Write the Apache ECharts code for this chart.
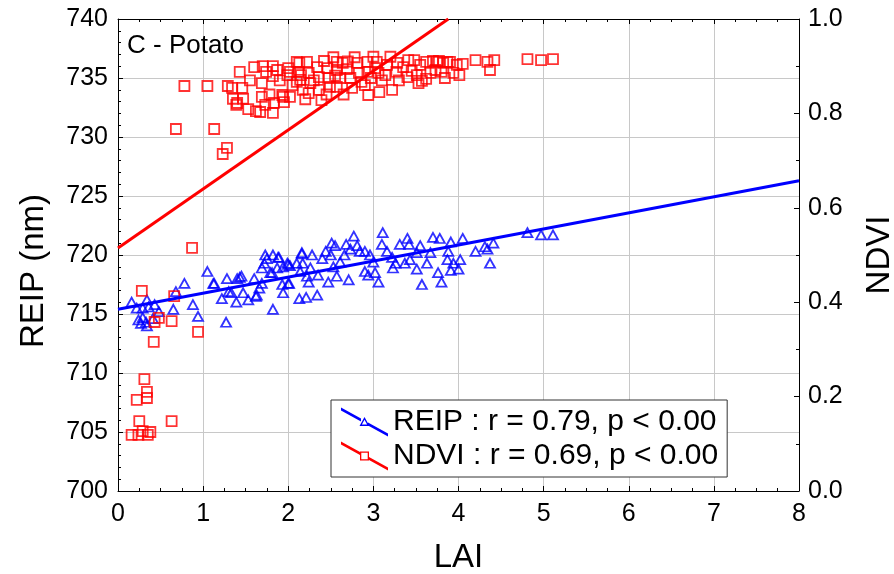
<!DOCTYPE html>
<html>
<head>
<meta charset="utf-8">
<script src="https://cdn.jsdelivr.net/npm/echarts@6/dist/echarts.min.js"></script>
<style>
html,body{margin:0;padding:0;background:#fff;}
#chart{width:894px;height:574px;}
</style>
</head>
<body>
<div id="chart"></div>
<script>
// ---- data ----
const xTicks = [0, 1, 2, 3, 4, 5, 6, 7, 8];
const reipTicks = [700, 705, 710, 715, 720, 725, 730, 735, 740];
const ndviTicks = [0.0, 0.2, 0.4, 0.6, 0.8, 1.0];

// REIP (nm) vs LAI
const reipPoints = [
[0.16,716.0],[0.22,715.5],[0.29,715.5],[0.34,716.2],[0.36,715.6],[0.24,714.5],[0.29,714.7],[0.33,714.3],[0.27,714.2],[0.34,714.0],
[0.43,715.8],[0.48,715.2],[0.41,714.6],[0.65,715.4],[0.68,716.9],[0.78,717.6],[0.88,715.8],[0.94,714.8],[1.05,718.6],[1.13,717.6],
[1.22,716.3],[1.28,718.0],[1.27,714.3],[1.33,716.8],[1.39,716.0],[1.40,718.0],[1.43,718.1],[1.47,716.8],[1.53,716.2],[1.60,718.0],
[1.63,716.6],[1.69,717.6],[1.72,719.3],[1.75,719.7],[1.82,720.0],[1.82,715.4],[1.69,718.9],[1.81,718.5],[1.87,718.9],[1.88,719.8],
[1.99,719.3],[1.94,716.8],[2.02,719.1],[2.01,717.6],[2.16,720.1],[2.13,716.3],[2.21,716.4],[1.12,717.6],[1.30,716.9],[1.45,718.2],
[1.62,716.5],[1.66,717.2],[1.73,720.0],[1.89,719.8],[1.79,718.5],[1.94,719.0],[2.00,719.2],[1.93,717.5],[2.00,717.6],[2.34,716.6],
[2.16,720.2],[2.28,720.0],[2.17,719.3],[2.26,718.9],[2.10,719.3],[2.14,718.6],[2.22,718.2],[2.24,717.7],[2.35,718.3],[2.40,719.7],
[2.44,720.3],[2.50,720.0],[2.51,721.0],[2.55,720.8],[2.53,719.0],[2.61,719.4],[2.66,720.0],[2.68,720.9],[2.73,720.5],[2.47,717.7],
[2.57,718.2],[2.71,717.9],[2.77,721.6],[2.81,720.8],[2.84,720.3],[2.90,720.3],[2.96,720.0],[3.00,719.4],[2.90,718.6],[2.94,718.3],
[3.02,718.5],[3.06,717.7],[3.11,721.9],[3.10,720.9],[3.16,720.3],[3.22,719.8],[3.23,718.9],[3.26,719.3],[3.31,720.9],[3.40,721.4],
[3.42,720.9],[3.37,719.3],[3.43,719.6],[3.51,720.2],[3.55,720.8],[3.51,718.8],[3.57,717.5],[3.63,719.3],[3.67,720.2],[3.70,721.5],
[3.78,721.4],[3.76,718.5],[3.80,717.7],[3.87,719.6],[3.88,720.3],[3.91,721.1],[4.05,721.4],[3.91,718.7],[3.94,719.3],[4.00,718.8],
[4.02,719.6],[4.20,720.3],[4.31,720.7],[4.34,720.5],[4.37,719.3],[4.41,721.0],[4.81,721.9],[4.97,721.7],[5.11,721.7]
];

// NDVI vs LAI
const ndviPoints = [
[0.16,0.119],[0.24,0.119],[0.35,0.119],[0.38,0.125],[0.29,0.127],[0.25,0.148],[0.63,0.148],[0.22,0.193],[0.34,0.197],[0.34,0.210],
[0.31,0.237],[0.42,0.316],[0.94,0.337],[0.43,0.358],[0.48,0.367],[0.63,0.360],[0.28,0.424],[0.66,0.413],[0.87,0.515],
[0.68,0.767],[1.13,0.767],[1.23,0.714],[1.28,0.727],[0.78,0.858],[1.05,0.858],[1.29,0.858],[1.34,0.854],[1.43,0.888],[1.46,0.854],
[1.35,0.831],[1.40,0.822],[1.47,0.831],[1.53,0.809],[1.60,0.898],[1.67,0.803],[1.82,0.801],[1.69,0.835],[1.73,0.818],[1.83,0.822],
[1.70,0.900],[1.82,0.900],[1.87,0.892],[1.69,0.864],[1.94,0.835],[1.95,0.824],[1.99,0.881],[2.00,0.896],[2.10,0.909],[2.12,0.888],
[2.10,0.867],[1.39,0.818],[1.62,0.805],[1.74,0.888],[1.82,0.879],[1.93,0.839],[2.02,0.835],[2.02,0.888],[2.13,0.907],[2.15,0.881],
[2.14,0.871],[2.17,0.850],[2.22,0.909],[2.24,0.886],[2.26,0.864],[2.24,0.843],[2.34,0.898],[2.36,0.877],[2.36,0.850],[2.39,0.828],
[2.42,0.911],[2.46,0.896],[2.47,0.875],[2.49,0.856],[2.53,0.919],[2.57,0.909],[2.57,0.892],[2.57,0.856],[2.61,0.875],[2.64,0.907],
[2.69,0.894],[2.73,0.875],[2.75,0.854],[2.78,0.919],[2.81,0.907],[2.83,0.886],[2.86,0.867],[2.93,0.909],[2.93,0.888],[2.94,0.839],
[2.97,0.875],[3.02,0.896],[3.04,0.909],[3.06,0.886],[3.07,0.845],[3.14,0.881],[3.16,0.903],[3.22,0.850],[3.27,0.888],[3.28,0.907],
[3.35,0.898],[3.40,0.877],[3.41,0.913],[3.48,0.913],[3.51,0.881],[3.55,0.903],[3.57,0.869],[3.62,0.909],[3.67,0.886],[3.70,0.911],
[3.73,0.892],[3.77,0.911],[3.80,0.888],[3.82,0.907],[3.84,0.875],[3.90,0.909],[3.94,0.886],[3.98,0.903],[3.53,0.864],[3.62,0.873],
[3.75,0.909],[3.87,0.909],[4.01,0.881],[4.05,0.905],[4.20,0.913],[4.34,0.909],[4.37,0.892],[4.42,0.913],[4.81,0.915],[4.97,0.913],
[5.11,0.915],[2.05,0.860],[2.30,0.870],[2.55,0.880],[2.70,0.910],[2.90,0.860],[3.10,0.870],[3.30,0.870],[3.45,0.890],[2.20,0.830],
[2.65,0.840],[1.90,0.870],[1.55,0.870],[1.78,0.840],[2.45,0.840],[3.00,0.920],[3.20,0.920]
];

// regression line end points
const reipFit = [[0, 715.4], [8, 726.3]];
const ndviFit = [[0, 0.515], [3.88, 1.0]];

const reipLegend = 'REIP : r = 0.79, p < 0.00';
const ndviLegend = 'NDVI : r = 0.69, p < 0.00';
const panelLabel = 'C - Potato';

// ---- chart ----
const FONT = "'Liberation Sans', Arial, sans-serif";
const BLUE = '#0000ff', RED = '#ff0000';
const GRID = '#c8c8c8', AX = '#000';

const reipIcon = 'path://M0 -1.5 L20 9.56 L20 12.56 L0 1.5 Z M27 13.44 L47 24.5 L47 27.5 L27 16.44 Z M23.5 8 L28.5 17 L18.5 17 Z M23.5 10.8 L20.9 15.6 L26.1 15.6 Z';
const ndviIcon = 'path://M0 -1.5 L19 9.0 L19 12.0 L0 1.5 Z M28 14.0 L47 24.5 L47 27.5 L28 17.0 Z M19 8.5 L28 8.5 L28 17.5 L19 17.5 Z M20.3 9.8 L20.3 16.2 L26.7 16.2 L26.7 9.8 Z';

const chart = echarts.init(document.getElementById('chart'), null, {renderer: 'canvas'});
chart.setOption({
  animation: false,
  backgroundColor: '#fff',
  textStyle: {fontFamily: FONT},
  title: {
    text: panelLabel, left: 127, top: 33, padding: 0,
    textStyle: {fontFamily: FONT, fontSize: 26, fontWeight: 'normal', color: '#000'}
  },
  grid: {left: 118, right: 95, top: 19, bottom: 83, containLabel: false, outerBoundsMode: 'none'},
  legend: {
    orient: 'vertical', left: 331, top: 400,
    padding: [5, 9, 4, 10], itemGap: 0,
    itemWidth: 47, itemHeight: 29,
    backgroundColor: '#fff', borderColor: '#333', borderWidth: 1, borderRadius: 0,
    selectedMode: false,
    itemStyle: {borderWidth: 0},
    textStyle: {fontFamily: FONT, fontSize: 30, color: '#000', lineHeight: 34},
    data: [
      {name: reipLegend, icon: reipIcon, itemStyle: {color: BLUE, borderWidth: 0}},
      {name: ndviLegend, icon: ndviIcon, itemStyle: {color: RED, borderWidth: 0}}
    ]
  },
  xAxis: [{
    type: 'value', min: xTicks[0], max: xTicks[xTicks.length - 1], interval: 1,
    name: 'LAI', nameLocation: 'middle', nameGap: 50,
    nameTextStyle: {fontFamily: FONT, fontSize: 33, color: '#000'},
    axisLine: {show: true, onZero: false, lineStyle: {color: AX, width: 1}},
    axisTick: {show: true, inside: true, length: 5, lineStyle: {color: AX}},
    minorTick: {show: true, splitNumber: 4, length: 3, lineStyle: {color: AX}},
    axisLabel: {fontFamily: FONT, fontSize: 25, color: '#000', margin: 11},
    splitLine: {show: true, lineStyle: {color: GRID, width: 1}}
  }, {
    type: 'value', position: 'top', min: xTicks[0], max: xTicks[xTicks.length - 1], interval: 1,
    axisLine: {show: true, onZero: false, lineStyle: {color: AX, width: 1}},
    axisTick: {show: true, inside: true, length: 5, lineStyle: {color: AX}},
    minorTick: {show: true, splitNumber: 4, length: 3, lineStyle: {color: AX}},
    axisLabel: {show: false},
    splitLine: {show: false}
  }],
  yAxis: [{
    type: 'value', min: reipTicks[0], max: reipTicks[reipTicks.length - 1], interval: 5,
    name: 'REIP (nm)', nameLocation: 'middle', nameGap: 68, nameRotate: 90,
    nameTextStyle: {fontFamily: FONT, fontSize: 33, color: '#000', padding: [0, 32, 0, 0]},
    axisLine: {show: true, onZero: false, lineStyle: {color: AX, width: 1}},
    axisTick: {show: true, inside: true, length: 5, lineStyle: {color: AX}},
    minorTick: {show: true, splitNumber: 5, length: 3, lineStyle: {color: AX}},
    axisLabel: {fontFamily: FONT, fontSize: 25, color: '#000', margin: 10},
    splitLine: {show: true, lineStyle: {color: GRID, width: 1}}
  }, {
    type: 'value', position: 'right', min: ndviTicks[0], max: ndviTicks[ndviTicks.length - 1], interval: 0.2,
    name: 'NDVI', nameLocation: 'middle', nameGap: 64, nameRotate: 90,
    nameTextStyle: {fontFamily: FONT, fontSize: 33, color: '#000'},
    axisLine: {show: true, onZero: false, lineStyle: {color: AX, width: 1}},
    axisTick: {show: true, inside: true, length: 5, lineStyle: {color: AX}},
    minorTick: {show: true, splitNumber: 2, length: 3, lineStyle: {color: AX}},
    axisLabel: {fontFamily: FONT, fontSize: 25, color: '#000', margin: 9, formatter: v => v.toFixed(1)},
    splitLine: {show: false}
  }],
  series: [{
    name: 'REIP', type: 'scatter', xAxisIndex: 0, yAxisIndex: 0,
    symbol: 'triangle', symbolSize: [10, 9],
    itemStyle: {color: 'rgba(255,255,255,0)', borderColor: BLUE, borderWidth: 1.8},
    data: reipPoints, z: 2
  }, {
    name: 'NDVI', type: 'scatter', xAxisIndex: 0, yAxisIndex: 1,
    symbol: 'rect', symbolSize: 10,
    itemStyle: {color: 'rgba(255,255,255,0)', borderColor: RED, borderWidth: 1.8},
    data: ndviPoints, z: 2
  }, {
    name: reipLegend, type: 'line', xAxisIndex: 0, yAxisIndex: 0,
    showSymbol: false, symbol: 'none',
    lineStyle: {color: BLUE, width: 3}, itemStyle: {color: BLUE},
    data: reipFit, z: 3, clip: true
  }, {
    name: ndviLegend, type: 'line', xAxisIndex: 0, yAxisIndex: 1,
    showSymbol: false, symbol: 'none',
    lineStyle: {color: RED, width: 3}, itemStyle: {color: RED},
    data: ndviFit, z: 3, clip: true
  }]
});
</script>
</body>
</html>
